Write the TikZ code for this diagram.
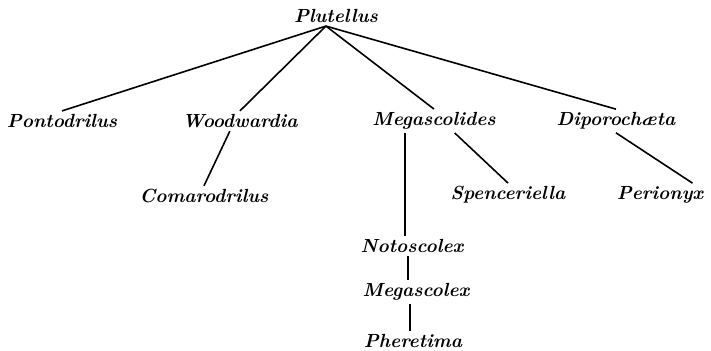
\documentclass[tikz,border=0pt]{standalone}
\begin{document}
\begin{tikzpicture}
[
    x=0.5pt, y=-0.5pt,
    genus/.style={font=\fontsize{9.5}{11}\selectfont\bfseries\itshape, inner sep=1.5pt},
    branch/.style={draw, thick}
]
    \useasboundingbox (0,0) rectangle (711,351);

    \node [genus] (plutellus) at (336,16) {Plutellus};

    \node [genus] (pontodrilus) at (62,121) {Pontodrilus};
    \node [genus] (woodwardia) at (240,121) {Woodwardia};
    \node [genus] (megascolides) at (434,121) {Megascolides};
    \node [genus] (diporochaeta) at (616,121) {Diporoch\ae ta};

    \node [genus] (comarodrilus) at (204,196) {Comarodrilus};
    \node [genus] (spenceriella) at (508,195) {Spenceriella};
    \node [genus] (perionyx) at (660,195) {Perionyx};

    \node [genus] (notoscolex) at (412,246) {Notoscolex};
    \node [genus] (megascolex) at (416,292) {Megascolex};
    \node [genus] (pheretima) at (413,341) {Pheretima};

    % from the root
    \draw [branch] (plutellus.-135) -- (pontodrilus.north);
    \draw [branch] (plutellus.-135) -- (woodwardia.north);
    \draw [branch] (plutellus.-135) -- (megascolides.north);
    \draw [branch] (plutellus.-135) -- (diporochaeta.north);

    \draw [branch] (woodwardia.-135) -- (comarodrilus.north);
    \draw [branch] (megascolides.-30) -- (spenceriella.north);
    \draw [branch] (diporochaeta.south) -- (perionyx.20);
    \draw [branch] (notoscolex.north -| 405,0) -- (megascolides.south -| 405,0);

    \draw [branch] (notoscolex.south -| 408,0) -- (megascolex.north -| 408,0);
    \draw [branch] (megascolex.south -| 410,0) -- (pheretima.north -| 410,0);
\end{tikzpicture}
\end{document}
